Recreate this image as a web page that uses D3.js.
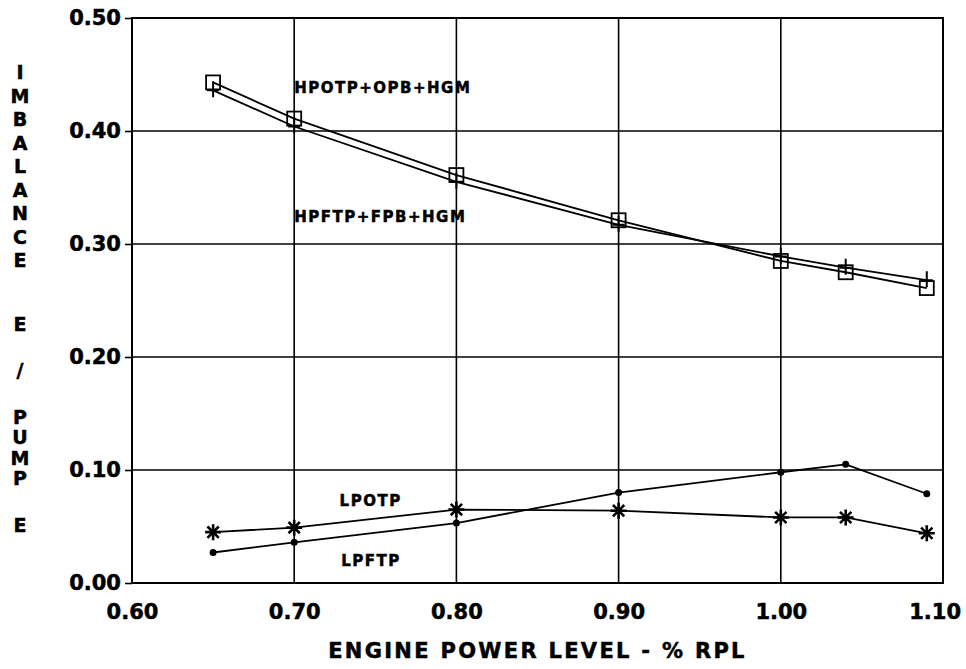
<!DOCTYPE html>
<html lang="en">
<head>
<meta charset="UTF-8">
<title>Imbalance vs Engine Power Level</title>
<script src="https://d3js.org/d3.v7.min.js"></script>
<style>
    body,
    html {
        margin: 0;
        padding: 0;
        background: #fff;
        overflow: hidden;
    }

    #chart svg {
        display: block;
    }

    .txt {
        font-family: "DejaVu Sans", sans-serif;
        font-weight: bold;
        fill: #000;
        stroke: #000;
        stroke-width: 0.5px;
    }
</style>
</head>
<body>
<div id="chart"></div>
<script>
    // engine power level (x values)
    var powerLevels = [0.65, 0.70, 0.80, 0.90, 1.00, 1.04, 1.09];

    // series values
    var hpotp = [0.443, 0.411, 0.361, 0.321, 0.285, 0.275, 0.261];   // squares
    var hpftp = [0.436, 0.404, 0.355, 0.317, 0.289, 0.279, 0.268];   // plus marks
    var lpotp = [0.045, 0.049, 0.065, 0.064, 0.058, 0.058, 0.044];   // asterisks
    var lpftp = [0.027, 0.036, 0.053, 0.080, 0.098, 0.105, 0.079];   // dots

    // ticks and titles
    var xTicks = [0.60, 0.70, 0.80, 0.90, 1.00, 1.10];
    var yTicks = [0.00, 0.10, 0.20, 0.30, 0.40, 0.50];
    var xTitle = "ENGINE POWER LEVEL - % RPL";
    var yTitleWords = ["IMBALANCE", "E", "/", "PUMP", "E"];
    var seriesNames = ["HPOTP+OPB+HGM", "HPFTP+FPB+HGM", "LPOTP", "LPFTP"];

    var W = 966, H = 669;
    var margin = { top: 18, right: 23, bottom: 86, left: 132 };
    var width = W - margin.left - margin.right,
        height = H - margin.top - margin.bottom;

    var svg = d3.select("#chart").append("svg")
        .attr("width", W)
        .attr("height", H);

    var g = svg.append("g")
        .attr("transform", `translate(${margin.left},${margin.top})`);

    var x = d3.scaleLinear().domain([0.60, 1.10]).range([0, width]);
    var y = d3.scaleLinear().domain([0.00, 0.50]).range([height, 0]);

    // grid lines
    g.append("g")
        .selectAll("line")
        .data(yTicks.slice(1, -1))
        .enter().append("line")
        .attr("x1", 0).attr("x2", width)
        .attr("y1", d => y(d)).attr("y2", d => y(d))
        .attr("stroke", "#000").attr("stroke-width", 1.6);

    g.append("g")
        .selectAll("line")
        .data(xTicks.slice(1, -1))
        .enter().append("line")
        .attr("y1", 0).attr("y2", height)
        .attr("x1", d => x(d)).attr("x2", d => x(d))
        .attr("stroke", "#000").attr("stroke-width", 1.6);

    // frame
    g.append("rect")
        .attr("width", width).attr("height", height)
        .attr("fill", "none").attr("stroke", "#000").attr("stroke-width", 2);

    // y axis: short outside ticks + labels
    var yAxis = g.append("g")
        .call(d3.axisLeft(y).tickValues(yTicks).tickSize(7).tickPadding(4).tickFormat(d3.format(".2f")));
    yAxis.select(".domain").remove();
    yAxis.selectAll("line").attr("stroke-width", 1.6);
    yAxis.selectAll("text").attr("class", "txt").style("font-size", "21px").attr("font-family", null);

    // x axis labels only
    var xAxis = g.append("g")
        .attr("transform", `translate(0,${height})`)
        .call(d3.axisBottom(x).tickValues(xTicks).tickSize(0).tickPadding(21).tickFormat(d3.format(".2f")));
    xAxis.select(".domain").remove();
    xAxis.selectAll("text").attr("class", "txt").style("font-size", "21px").attr("font-family", null);
    // last label sits against the right edge
    xAxis.selectAll("text").filter(d => d === 1.10).attr("dx", "-0.4em");

    // x title
    svg.append("text")
        .attr("class", "txt")
        .attr("x", margin.left + width / 2)
        .attr("y", 658)
        .attr("text-anchor", "middle")
        .style("font-size", "21px")
        .style("letter-spacing", "2.3px")
        .text(xTitle);

    // y title, letters stacked one above the other
    var yt = svg.append("text")
        .attr("class", "txt")
        .attr("text-anchor", "middle")
        .style("font-size", "19px");
    var cy = 79;
    yTitleWords.forEach(function (word, w) {
        var step = w === 0 ? 23.5 : 20.5;
        word.split("").forEach(function (ch) {
            yt.append("tspan").attr("x", 20).attr("y", cy).text(ch);
            cy += step;
        });
        cy += w === 0 ? 40 : 26;
    });

    // lines
    var line = d3.line()
        .x((d, i) => x(powerLevels[i]))
        .y(d => y(d));

    [hpotp, hpftp, lpotp, lpftp].forEach(function (s) {
        g.append("path")
            .datum(s)
            .attr("fill", "none")
            .attr("stroke", "#000")
            .attr("stroke-width", 1.8)
            .attr("d", line);
    });

    // markers
    function pts(s) {
        return s.map((v, i) => ({ x: x(powerLevels[i]), y: y(v) }));
    }

    // squares
    g.append("g").selectAll("rect")
        .data(pts(hpotp))
        .enter().append("rect")
        .attr("x", d => d.x - 7).attr("y", d => d.y - 7)
        .attr("width", 14).attr("height", 14)
        .attr("fill", "none").attr("stroke", "#000").attr("stroke-width", 1.8);

    // plus
    g.append("g").selectAll("path")
        .data(pts(hpftp))
        .enter().append("path")
        .attr("d", d => `M${d.x - 6},${d.y}H${d.x + 6}M${d.x},${d.y - 9}V${d.y + 7}`)
        .attr("stroke", "#000").attr("stroke-width", 2);

    // asterisks
    g.append("g").selectAll("path")
        .data(pts(lpotp))
        .enter().append("path")
        .attr("d", function (d) {
            var r = 8, p = "";
            [0, 45, 90, 135].forEach(function (a) {
                var rad = a * Math.PI / 180, dx = r * Math.cos(rad), dy = r * Math.sin(rad);
                p += `M${d.x - dx},${d.y - dy}L${d.x + dx},${d.y + dy}`;
            });
            return p;
        })
        .attr("stroke", "#000").attr("stroke-width", 2.6);

    // dots
    g.append("g").selectAll("circle")
        .data(pts(lpftp))
        .enter().append("circle")
        .attr("cx", d => d.x).attr("cy", d => d.y).attr("r", 3.5)
        .attr("fill", "#000");

    // series labels
    var labelPos = [[0.70, 0.438], [0.70, 0.324], [0.728, 0.073], [0.729, 0.0195]];
    seriesNames.forEach(function (name, i) {
        g.append("text")
            .attr("class", "txt")
            .attr("x", x(labelPos[i][0]))
            .attr("y", y(labelPos[i][1]))
            .attr("dy", "0.36em")
            .style("font-size", "15px")
            .style("letter-spacing", "1.5px")
            .text(name);
    });
</script>
</body>
</html>
